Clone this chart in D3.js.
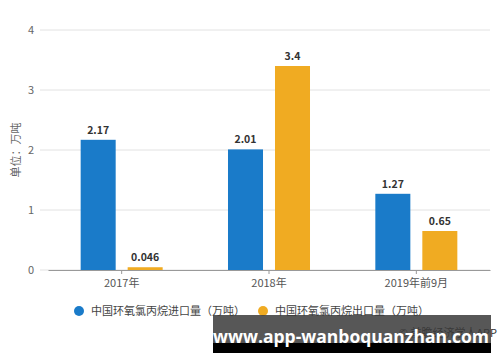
<!DOCTYPE html>
<html><head><meta charset="utf-8">
<script src="https://cdn.jsdelivr.net/npm/d3@7"></script>
<style>
html,body{margin:0;padding:0;background:#fff;}
svg{display:block;font-family:"Noto Sans CJK SC","Noto Sans",sans-serif;}
</style></head>
<body><svg id="c" width="500" height="362"></svg>
<script>
const categories = ["2017年", "2018年", "2019年前9月"];
const seriesNames = ["中国环氧氯丙烷进口量（万吨）", "中国环氧氯丙烷出口量（万吨）"];
const importVals = [2.17, 2.01, 1.27];
const exportVals = [0.046, 3.4, 0.65];
const valueLabels = [["2.17", "2.01", "1.27"], ["0.046", "3.4", "0.65"]];
const yTicks = [0, 1, 2, 3, 4];
const colors = ["#1a7bc9", "#f0ab22"];

const svg = d3.select("#c");
const x = d3.scaleBand().domain(categories).range([48, 490]);
const xs = d3.scaleBand().domain([0, 1]).range([0, x.bandwidth()]).paddingInner(0.255).paddingOuter(0.695);
const y = d3.scaleLinear().domain([0, 4]).range([270, 30]);

// gridlines
svg.append("g").selectAll("line").data(yTicks).join("line")
  .attr("x1", 40).attr("x2", 490)
  .attr("y1", d => y(d)).attr("y2", d => y(d))
  .attr("stroke", "#e2e2e2").attr("stroke-width", 1);

// y labels
svg.append("g").selectAll("text").data(yTicks).join("text")
  .attr("x", 34).attr("y", d => y(d)).attr("dy", "0.35em")
  .attr("text-anchor", "end").attr("font-size", 11).attr("fill", "#666")
  .text(d => d);

// y title
svg.append("text").attr("transform", "translate(19.5,150) rotate(-90)")
  .attr("text-anchor", "middle").attr("font-size", 11).attr("fill", "#666")
  .text("单位：万吨");

const data = [importVals, exportVals];
data.forEach((vals, si) => {
  const g = svg.append("g");
  g.selectAll("rect").data(vals).join("rect")
    .attr("x", (d, i) => x(categories[i]) + xs(si))
    .attr("width", xs.bandwidth())
    .attr("y", d => y(d))
    .attr("height", d => y(0) - y(d))
    .attr("fill", colors[si]);
  g.selectAll("text").data(vals).join("text")
    .attr("x", (d, i) => x(categories[i]) + xs(si) + xs.bandwidth() / 2)
    .attr("y", d => y(d) - 6)
    .attr("text-anchor", "middle").attr("font-size", 10.5).attr("font-weight", "bold")
    .attr("fill", "#333")
    .text((d, i) => valueLabels[si][i]);
});

// x axis
const xAxis = d3.axisBottom(x).tickSize(4).tickSizeOuter(0);
const ax = svg.append("g").attr("transform", "translate(0,270)").call(xAxis);
ax.select(".domain").attr("stroke", "#999");
ax.selectAll(".tick line").attr("stroke", "#999");
ax.selectAll(".tick text").attr("font-size", 11).attr("fill", "#555")
  .attr("font-family", "\"Noto Sans CJK SC\",sans-serif").attr("dy", "0.9em");

// legend
const legX = [79, 263];
seriesNames.forEach((n, i) => {
  svg.append("circle").attr("cx", legX[i]).attr("cy", 311).attr("r", 5).attr("fill", colors[i]);
  svg.append("text").attr("x", legX[i] + 12).attr("y", 311).attr("dy", "0.35em")
    .attr("font-size", 11).attr("fill", "#444").text(n);
});

// source + overlay banner
svg.append("text").attr("x", 497).attr("y", 333).attr("dy", "0.35em")
  .attr("text-anchor", "end").attr("font-size", 11).attr("fill", "#333").text("© 前瞻经济学人APP");
svg.append("rect").attr("x", 213).attr("y", 315).attr("width", 278).attr("height", 28)
  .attr("fill", "#3a3a3a").attr("fill-opacity", 0.85);
svg.append("rect").attr("x", 213).attr("y", 343).attr("width", 278).attr("height", 10).attr("fill", "#000");
svg.append("text").attr("x", 351).attr("y", 337).attr("dy", "0.35em")
  .attr("text-anchor", "middle").attr("font-size", 17.5).attr("font-weight", "bold")
  .attr("font-family", "\"Open Sans\",sans-serif").attr("fill", "#fff").text("www.app-wanboquanzhan.com");
</script></body></html>
